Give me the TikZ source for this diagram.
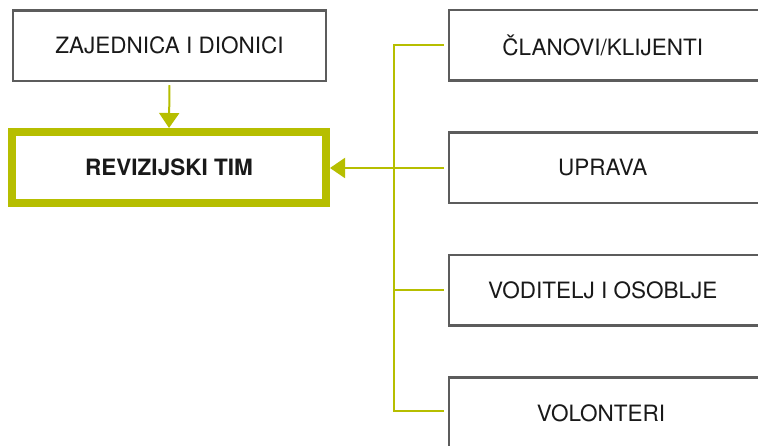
\documentclass[tikz,border=0pt]{standalone}
\usepackage{fontspec}
\setmainfont{TeX Gyre Heros}
\usetikzlibrary{arrows.meta}
\definecolor{olive}{RGB}{182,190,0}
\definecolor{boxgray}{RGB}{92,92,92}
\definecolor{txt}{RGB}{25,25,25}
\tikzset{
  graybox/.style={draw=boxgray, line width=2.5pt, rectangle, minimum height=70.5pt, inner sep=0pt,
    text=txt, font=\fontsize{22.5}{27}\selectfont},
  rbox/.style={graybox, minimum width=330pt, anchor=west},
  revbox/.style={draw=olive, line width=8pt, rectangle, minimum width=314pt, minimum height=71pt,
    inner sep=0pt, text=txt, font=\fontsize{22.5}{27}\selectfont\bfseries},
  conn/.style={draw=olive, line width=2pt},
  arr/.style={conn, -{Triangle[width=20pt,length=15pt]}}
}
\begin{document}
\begin{tikzpicture}[x=1pt,y=-1pt]
\useasboundingbox (0,0) rectangle (758,446);
\clip (0,0) rectangle (758,446);
\fill[white] (0,0) rectangle (758,446);
\node[graybox, minimum width=313pt] (zaj) at (169.5,45.75) {ZAJEDNICA I DIONICI};
\node[revbox] (rev) at (169,167.5) {REVIZIJSKI TIM};
\node[rbox] (c1) at (447.5,45.5) {ČLANOVI/KLIJENTI\kern22pt};
\node[rbox] (c2) at (447.5,168) {UPRAVA\kern22pt};
\node[rbox] (c3) at (447.5,290.5) {VODITELJ I OSOBLJE\kern22pt};
\node[rbox, minimum height=90pt] (c4) at (447.5,422.5) {};
\node[text=txt, font=\fontsize{22.5}{27}\selectfont] (c4t) at (601,413) {VOLONTERI};
\coordinate (bus) at (394,0);
\coordinate (s1) at ([xshift=-4pt]c1.west);
\coordinate (s2) at ([xshift=-4pt]c2.west);
\coordinate (s3) at ([xshift=-4pt]c3.west);
\coordinate (s4) at ([shift={(-4,35)}]c4.north west);
\draw[arr] ([yshift=-3pt]zaj.south) -- (rev.north);
\draw[conn] (s1) -- (s1 -| bus) -- (s4 -| bus) -- (s4);
\draw[conn] (s3) -- (s3 -| bus);
\draw[arr] (s2) -- (s2 -| rev.east);
\end{tikzpicture}
\end{document}
